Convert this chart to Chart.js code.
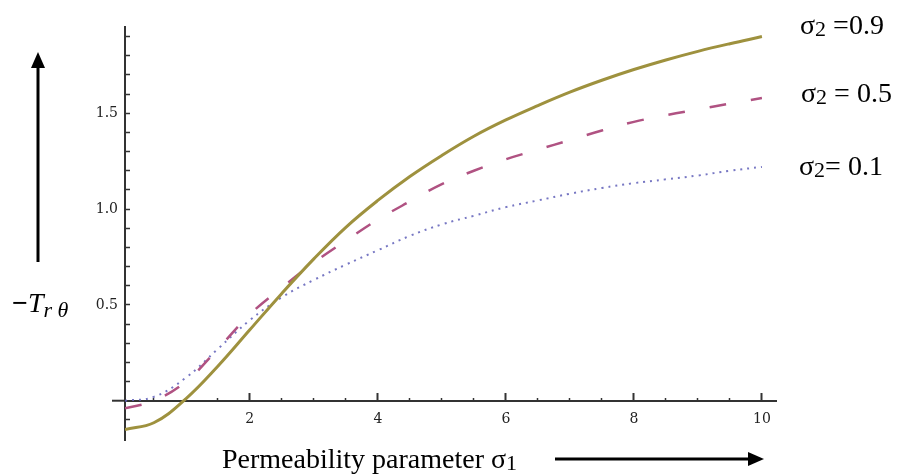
<!DOCTYPE html>
<html>
<head>
<meta charset="utf-8">
<script src="https://cdn.jsdelivr.net/npm/chart.js@4/dist/chart.umd.min.js"></script>
<style>
  body { margin: 0; background: #fff; }
  #wrap { position: relative; width: 899px; height: 474px; }
  canvas { position: absolute; left: 0; top: 0; }
  .lbl { position: absolute; font-family: "Liberation Serif", serif; font-size: 28px; color: #000; white-space: nowrap; line-height: 1; }
  .lbl sub { font-size: 22px; vertical-align: -2px; line-height: 1; }
  .lbl sub.low { vertical-align: -5px; }
</style>
</head>
<body>
<div id="wrap">
  <canvas id="chart" width="899" height="474"></canvas>
  <div class="lbl" style="left:800px; top:11px;">σ<sub>2</sub> =0.9</div>
  <div class="lbl" style="left:801px; top:79px;">σ<sub>2</sub> = 0.5</div>
  <div class="lbl" style="left:799px; top:152px;">σ<sub>2</sub>= 0.1</div>
  <div class="lbl" style="left:12px; top:289px;"><b>−</b><i>T</i><sub class="low"><i>r θ</i></sub></div>
  <div class="lbl" style="left:222px; top:445px;">Permeability parameter σ<sub>1</sub></div>
</div>
<script>
const sigma1 = [0.05, 0.5, 1, 1.5, 2, 2.5, 3, 3.5, 4, 4.5, 5, 5.5, 6, 6.5, 7, 7.5, 8, 8.5, 9, 9.5, 10];
// -T_r theta for sigma2 = 0.9, 0.5, 0.1
const tauS09 = [-0.15, -0.115, 0.01, 0.18, 0.37, 0.56, 0.74, 0.905, 1.045, 1.17, 1.28, 1.38, 1.465, 1.54, 1.61, 1.672, 1.728, 1.778, 1.823, 1.863, 1.90];
const tauS05 = [-0.04, 0.0, 0.10, 0.27, 0.45, 0.59, 0.72, 0.835, 0.945, 1.04, 1.13, 1.20, 1.26, 1.31, 1.36, 1.41, 1.455, 1.49, 1.52, 1.55, 1.58];
const tauS01 = [0.0, 0.02, 0.12, 0.27, 0.42, 0.54, 0.63, 0.71, 0.785, 0.86, 0.92, 0.965, 1.01, 1.045, 1.08, 1.11, 1.135, 1.155, 1.175, 1.20, 1.22];

const xTicks = [0.5, 1, 1.5, 2.5, 3, 3.5, 4.5, 5, 5.5, 6.5, 7, 7.5, 8.5, 9, 9.5];
const xMajorTicks = [2, 4, 6, 8, 10];
const yTicks = [-0.1, 0.1, 0.2, 0.3, 0.4, 0.5, 0.6, 0.7, 0.8, 0.9, 1.0, 1.1, 1.2, 1.3, 1.4, 1.5, 1.6, 1.7, 1.8, 1.9];
const yTickLabels = [0.5, 1.0, 1.5];

const pts = ys => sigma1.map((x, i) => ({ x: x, y: ys[i] }));

// arrows next to the axis titles, plus the bit of x axis left of the y axis
const extras = {
  id: 'extras',
  afterDraw(chart) {
    const c = chart.ctx;
    const y0 = chart.scales.y.getPixelForValue(0);
    c.save();
    c.strokeStyle = '#333';
    c.lineWidth = 2;
    c.beginPath(); c.moveTo(112, y0); c.lineTo(chart.chartArea.left, y0); c.stroke();
    c.strokeStyle = '#000';
    c.fillStyle = '#000';
    c.lineWidth = 3;
    c.beginPath(); c.moveTo(38, 262); c.lineTo(38, 64); c.stroke();
    c.beginPath(); c.moveTo(38, 52); c.lineTo(31, 68); c.lineTo(45, 68); c.closePath(); c.fill();
    c.beginPath(); c.moveTo(555, 459); c.lineTo(752, 459); c.stroke();
    c.beginPath(); c.moveTo(764, 459); c.lineTo(748, 452); c.lineTo(748, 466); c.closePath(); c.fill();
    c.restore();
  }
};

const tickFont = { family: 'DejaVu Serif', size: 14 };

new Chart(document.getElementById('chart'), {
  type: 'line',
  data: {
    datasets: [
      {
        label: 'σ2 = 0.9',
        data: pts(tauS09),
        borderColor: 'rgb(158, 145, 62)',
        borderWidth: 3,
        pointRadius: 0,
        tension: 0.4
      },
      {
        label: 'σ2 = 0.5',
        data: pts(tauS05),
        borderColor: 'rgb(176, 82, 130)',
        borderWidth: 2.5,
        borderDash: [17, 25],
        pointRadius: 0,
        tension: 0.4
      },
      {
        label: 'σ2 = 0.1',
        data: pts(tauS01),
        borderColor: 'rgba(95, 95, 185, 0.85)',
        borderWidth: 2,
        borderDash: [2, 5],
        pointRadius: 0,
        tension: 0.4
      }
    ]
  },
  options: {
    responsive: false,
    animation: false,
    layout: { padding: { left: 95, right: 123, top: 27, bottom: 34 } },
    plugins: {
      legend: { display: false },
      tooltip: { enabled: false }
    },
    scales: {
      x: {
        type: 'linear',
        min: 0.05,
        max: 10.22,
        position: { y: 0 },
        afterBuildTicks: s => { s.ticks = xTicks.map(v => ({ value: v })); },
        border: { color: '#333', width: 2 },
        grid: { drawOnChartArea: false, tickLength: -4, tickColor: '#333', tickWidth: 1.5 },
        ticks: { display: false }
      },
      xMajor: {
        type: 'linear',
        axis: 'x',
        min: 0.05,
        max: 10.22,
        position: { y: 0 },
        afterBuildTicks: s => { s.ticks = xMajorTicks.map(v => ({ value: v })); },
        border: { display: false },
        grid: { drawOnChartArea: false, tickLength: -8, tickColor: '#333', tickWidth: 2 },
        ticks: {
          autoSkip: false,
          maxRotation: 0,
          padding: 18,
          color: '#222',
          font: tickFont,
          callback: v => String(v)
        }
      },
      y: {
        type: 'linear',
        min: -0.205,
        max: 1.95,
        position: 'left',
        afterFit: s => { s.width = 30; },
        afterBuildTicks: s => { s.ticks = yTicks.map(v => ({ value: v })); },
        border: { color: '#333', width: 2 },
        grid: {
          drawOnChartArea: false,
          tickLength: -5,
          tickColor: '#333',
          tickWidth: 1.5
        },
        ticks: {
          autoSkip: false,
          padding: 12,
          color: '#222',
          font: tickFont,
          callback: v => (yTickLabels.some(t => Math.abs(t - v) < 1e-9) ? v.toFixed(1) : '')
        }
      }
    }
  },
  plugins: [extras]
});
</script>
</body>
</html>
